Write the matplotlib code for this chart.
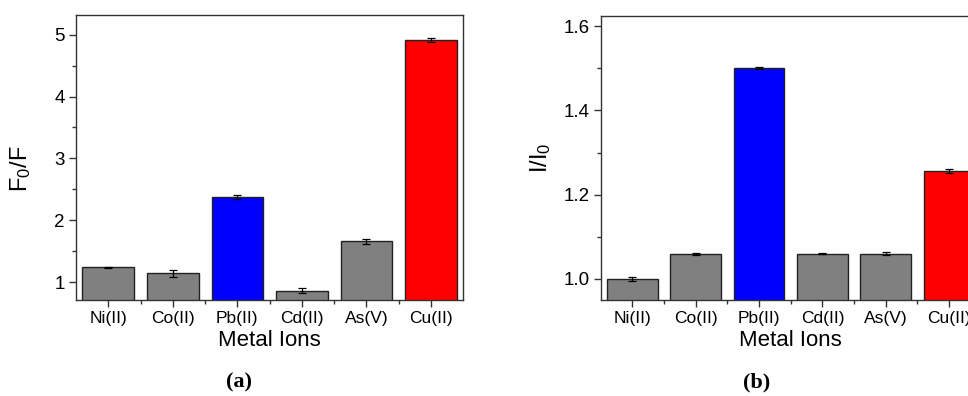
import numpy as np
from matplotlib import pyplot as plt
from matplotlib.ticker import MultipleLocator

plt.rcParams['font.family'] = ['Liberation Sans', 'DejaVu Sans']
plt.rcParams['mathtext.default'] = 'regular'

ions = ["Ni(II)", "Co(II)", "Pb(II)", "Cd(II)", "As(V)", "Cu(II)"]
colors = ["#808080", "#808080", "#0000FF", "#808080", "#808080", "#FF0000"]

# panel a: F0/F
quench = [1.24, 1.14, 2.37, 0.86, 1.66, 4.91]
quench_err = [0.01, 0.05, 0.03, 0.04, 0.04, 0.03]

# panel b: I/I0
enhance = [1.00, 1.06, 1.50, 1.06, 1.06, 1.257]
enhance_err = [0.004, 0.002, 0.002, 0.001, 0.003, 0.005]

fig = plt.figure(figsize=(9.68, 3.96), dpi=100)
ax1 = fig.add_axes([0.0785, 0.2424, 0.400, 0.720])
ax2 = fig.add_axes([0.6206, 0.2424, 0.3926, 0.717])

x = np.arange(len(ions))

def draw(ax, vals, errs, ylim, major, minor, ylabel, lab_x, lab_y):
    ax.bar(x, vals, width=0.8, color=colors, edgecolor="#222222", linewidth=1.0, zorder=2)
    ax.errorbar(x, vals, yerr=errs, fmt="none", ecolor="black", elinewidth=0.9,
                capsize=3, capthick=0.9, zorder=3)
    ax.set_xlim(-0.5, 5.5)
    ax.set_ylim(*ylim)
    ax.set_xticks(x)
    ax.set_xticklabels(ions)
    ax.set_xticks(x[:-1] + 0.5, minor=True)
    ax.yaxis.set_major_locator(MultipleLocator(major))
    ax.yaxis.set_minor_locator(MultipleLocator(minor))
    ax.tick_params(axis="both", which="major", direction="out", length=5, width=1,
                   color="#333333", labelsize=13.5, pad=3)
    ax.tick_params(axis="x", which="major", labelsize=12.5)
    ax.tick_params(axis="both", which="minor", direction="out", length=3, width=1,
                   color="#333333")
    for s in ax.spines.values():
        s.set_color("#333333")
        s.set_linewidth(1.0)
    ax.set_xlabel("Metal Ions", fontsize=16, labelpad=3)
    ax.set_ylabel(ylabel, fontsize=17)
    ax.yaxis.set_label_coords(lab_x, lab_y)

draw(ax1, quench, quench_err, (0.71, 5.32), 1, 0.5, "F$_0$/F", -0.11, 0.46)
draw(ax2, enhance, enhance_err, (0.95, 1.624), 0.2, 0.1, "I/I$_0$", -0.125, 0.5)

fig.text(0.247, 0.033, "(a)", fontsize=16, fontweight="bold",
         family=["Liberation Serif", "DejaVu Serif"], ha="center", va="center")
fig.text(0.782, 0.033, "(b)", fontsize=16, fontweight="bold",
         family=["Liberation Serif", "DejaVu Serif"], ha="center", va="center")

plt.savefig("out.png", dpi=100)
